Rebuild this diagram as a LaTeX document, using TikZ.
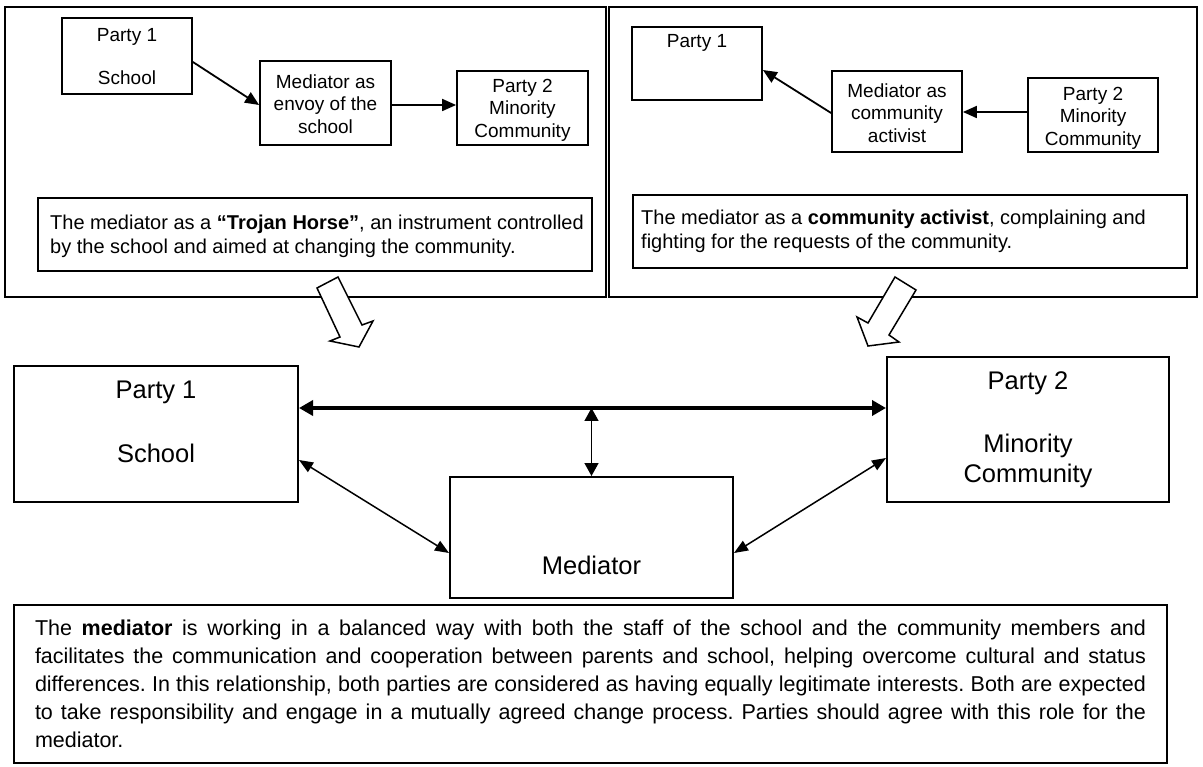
\documentclass[tikz,border=0pt]{standalone}
\usepackage{fontspec}
\setmainfont{Liberation Sans}
\usetikzlibrary{arrows.meta}
\frenchspacing
\begin{document}
\begin{tikzpicture}[x=1pt,y=-1pt,
  panel/.style={draw, line width=2pt},
  sbox/.style={draw, line width=1.8pt, inner sep=0pt},
  bbox/.style={draw, line width=2pt, inner sep=0pt},
  stxt/.style={font=\fontsize{19}{22.5}\selectfont, align=center, inner sep=0pt},
  ttxt/.style={font=\fontsize{20}{24}\selectfont, align=left, inner sep=0pt, anchor=west},
  btxt/.style={font=\fontsize{25.5}{30}\selectfont, inner sep=0pt},
  sarrow/.style={line width=1.8pt, -{Triangle[length=14pt,width=12pt]}},
  harrow/.style={line width=3.5pt, {Triangle[length=14pt,width=15pt]}-{Triangle[length=14pt,width=15pt]}},
  varrow/.style={line width=1.5pt, {Triangle[length=13pt,width=14pt]}-{Triangle[length=13pt,width=14pt]}},
  darrow/.style={line width=1.5pt, {Triangle[length=14pt,width=11pt]}-{Triangle[length=14pt,width=11pt]}},
  hollow/.style={draw, line width=1.5pt, fill=white, line join=miter}
]
\useasboundingbox (0,0) rectangle (1203,767);

% top panels
\draw[panel] (5,7) rectangle (606,297);
\draw[panel] (609,7) rectangle (1197,297);

% left panel
\node[sbox, minimum width=130pt, minimum height=76pt] (p1L) at (127,56) {};
\node[stxt] (p1La) at (127,37) {Party 1};
\node[stxt] (p1Lb) at (127,78) {School};
\node[sbox, minimum width=131pt, minimum height=84pt] (medL) at (325.5,103) {};
\node[stxt] (medLt) at (325.5,104) {Mediator as\\envoy of the\\school};
\node[sbox, minimum width=131pt, minimum height=74pt] (p2L) at (522.5,108) {};
\node[stxt] (p2Lt) at (522.5,110) {Party 2\\Minority\\Community};
\draw[sarrow] ([yshift=-6pt]p1L.east) -- ([yshift=-2pt]medL.west);
\draw[sarrow] ([yshift=-2pt]medL.east) -- ([yshift=-2pt]medL.east -| p2L.west);
\node[sbox, minimum width=554pt, minimum height=73pt] (tL) at (315,234.5) {};
\node[ttxt] (tLt) at (50,236) {The mediator as a \textbf{“Trojan Horse”}, an instrument controlled\\by the school and aimed at changing the community.};

% right panel
\node[sbox, minimum width=130pt, minimum height=73pt] (p1R) at (697,63.5) {};
\node[stxt] (p1Rt) at (697,43) {Party 1};
\node[sbox, minimum width=130pt, minimum height=81pt] (medR) at (897,111.5) {};
\node[stxt] (medRt) at (897,113) {Mediator as\\community\\activist};
\node[sbox, minimum width=130pt, minimum height=74pt] (p2R) at (1093,115) {};
\node[stxt] (p2Rt) at (1093,118) {Party 2\\Minority\\Community};
\draw[sarrow] ([yshift=-1.5pt]medR.west) -- ([yshift=-6.5pt]p1R.east);
\draw[sarrow] ([yshift=3pt]p2R.west) -- ([yshift=3pt]p2R.west -| medR.east);
\node[sbox, minimum width=554pt, minimum height=73pt] (tR) at (910,231.5) {};
\node[ttxt] (tRt) at (641,231) {The mediator as a \textbf{community activist}, complaining and\\fighting for the requests of the community.};

% hollow arrows
\draw[hollow] (317,288) -- (338,277) -- (362,325) -- (373,321) -- (359,347) -- (330,341) -- (340,337) -- cycle;
\draw[hollow] (895,277) -- (916,290) -- (889,335) -- (899,342) -- (868,346) -- (857,317) -- (868,323) -- cycle;

% bottom
\node[bbox, minimum width=284pt, minimum height=136pt] (P1) at (156,434) {};
\node[btxt] (P1a) at (156,392) {Party 1};
\node[btxt] (P1b) at (156,453) {School};
\node[bbox, minimum width=282pt, minimum height=145pt] (P2) at (1028,429.5) {};
\node[btxt] (P2a) at (1028,383) {Party 2};
\node[btxt, align=center, font=\fontsize{25.5}{30}\selectfont] (P2b) at (1028,461) {Minority\\Community};
\node[bbox, minimum width=283pt, minimum height=121pt] (Med) at (591.5,537.5) {};
\node[btxt] (Medt) at (591.5,565) {Mediator};

\coordinate (hl) at (590,408);
\draw[harrow] (P1.east |- hl) -- (P2.west |- hl);
\draw[varrow] (Med.north |- hl) -- (Med.north);
\draw[darrow] ([yshift=-26pt]P1.east) -- ([yshift=-15.5pt]Med.west);
\draw[darrow] ([yshift=-28.5pt]P2.west) -- ([yshift=-15.5pt]Med.east);

\node[bbox, minimum width=1153pt, minimum height=158pt] (tB) at (590.5,684) {};
\node[font=\fontsize{21.5}{28}\selectfont, text width=1111pt, align=justify, inner sep=0pt] (tBt) at (590.5,684) {The \textbf{mediator} is working in a balanced way with both the staff of the school and the community members and\linebreak facilitates the communication and cooperation between parents and school, helping overcome cultural and status\linebreak differences. In this relationship, both parties are considered as having equally legitimate interests. Both are expected\linebreak to take responsibility and engage in a mutually agreed change process. Parties should agree with this role for the\linebreak mediator.};
\end{tikzpicture}
\end{document}
